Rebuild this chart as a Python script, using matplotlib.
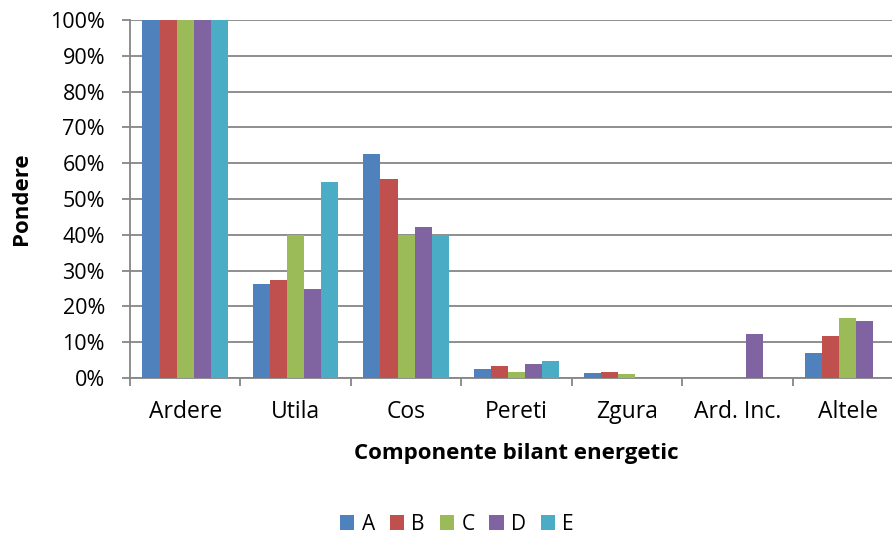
import numpy as np
import matplotlib.pyplot as plt
from matplotlib.ticker import FixedLocator, PercentFormatter

plt.rcParams['font.family'] = ['Open Sans', 'DejaVu Sans']

categorii = ['Ardere', 'Utila', 'Cos', 'Pereti', 'Zgura', 'Ard. Inc.', 'Altele']
serii = ['A', 'B', 'C', 'D', 'E']
A = [100, 26.2, 62.5, 2.4, 1.3, 0, 6.9]
B = [100, 27.4, 55.5, 3.3, 1.6, 0, 11.7]
C = [100, 40.0, 40.0, 1.6, 1.1, 0, 16.8]
D = [100, 24.9, 42.3, 3.8, 0, 12.4, 15.8]
E = [100, 54.8, 40.0, 4.8, 0, 0, 0]
culori = ['#4F81BD', '#C0504D', '#9BBB59', '#8064A2', '#4BACC6']

fig = plt.figure(figsize=(8.92, 5.38), dpi=100)
# axa iese putin din figura in dreapta
ax = fig.add_axes([130 / 892, 160 / 538, 773 / 892, 358 / 538])

x = np.arange(len(categorii))
w = 0.155
for i, (nume, val) in enumerate(zip(serii, [A, B, C, D, E])):
    ax.bar(x + (i - 2) * w, val, width=w, color=culori[i], label=nume, zorder=3)

ax.set_xlim(-0.5, len(categorii) - 0.5)
ax.set_ylim(0, 100)
ax.set_yticks(np.arange(0, 101, 10))
ax.yaxis.set_major_formatter(PercentFormatter(decimals=0))
ax.grid(axis='y', color='#868686', linewidth=1.3, zorder=0)

for s in ['top', 'right']:
    ax.spines[s].set_visible(False)
for s in ['left', 'bottom']:
    ax.spines[s].set_color('#868686')
    ax.spines[s].set_linewidth(1.3)

ax.set_xticks(x)
ax.set_xticklabels(categorii)
ax.tick_params(axis='x', length=0, labelsize=16.5, pad=16)
ax.xaxis.set_minor_locator(FixedLocator(np.arange(-0.5, len(categorii), 1)))
ax.tick_params(axis='x', which='minor', length=6, color='#868686', width=1.3)
ax.tick_params(axis='y', length=6, color='#868686', width=1.3, labelsize=15.5, pad=12)

fig.text(516 / 892, 1 - 454 / 538, 'Componente bilant energetic', fontsize=16,
         fontweight='bold', ha='center', va='center')
fig.text(22 / 892, 1 - 199 / 538, 'Pondere', fontsize=16, fontweight='bold',
         rotation=90, ha='center', va='center')

fig.legend(loc='center', bbox_to_anchor=(457 / 892, 1 - 524 / 538), ncol=5,
           frameon=False, fontsize=15, handlelength=0.7, handleheight=0.7,
           handletextpad=0.35, columnspacing=0.7)

fig.savefig('out.png', dpi=100)
